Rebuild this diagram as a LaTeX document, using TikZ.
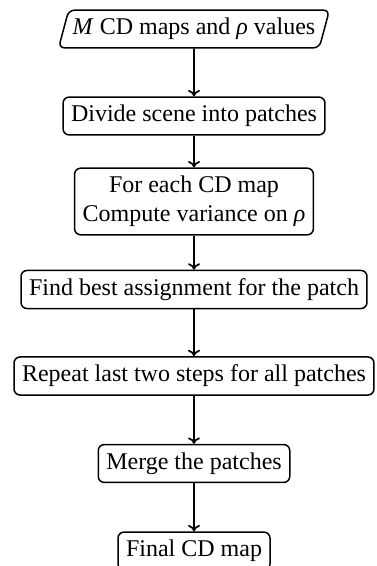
\documentclass[tikz,border=0pt]{standalone}
\usepackage{fontspec}
\setmainfont{Liberation Serif}
\usetikzlibrary{shapes.geometric,arrows.meta}
\begin{document}
\begin{tikzpicture}[x=0.5pt,y=-0.5pt,
  every node/.style={font=\fontsize{12}{14.4}\selectfont, line width=0.75pt},
  procbox/.style={draw, rounded corners=3pt, align=center, inner sep=4pt},
  iobox/.style={draw, trapezium, trapezium left angle=75, trapezium right angle=105,
    trapezium stretches body, rounded corners=3pt, inner sep=4pt, inner xsep=2pt},
  flow/.style={-{To[length=3.2pt,width=6pt]}, line width=0.85pt}]
\useasboundingbox (0,0) rectangle (376,566);
\node[iobox] (in) at (194,29) {\textit{M} CD maps and \textit{ρ} values};
\node[procbox] (div) at (194,116) {Divide scene into patches};
\node[procbox] (var) at (194,201.5) {For each CD map\\Compute variance on \textit{ρ}};
\node[procbox] (best) at (194,289.5) {Find best assignment for the patch};
\node[procbox] (rep) at (194,376) {Repeat last two steps for all patches};
\node[procbox] (merge) at (194,463.5) {Merge the patches};
\node[procbox] (final) at (194,551) {Final CD map};
\draw[flow] (in) -- (div);
\draw[flow] (div) -- (var);
\draw[flow] (var) -- (best);
\draw[flow] (best) -- (rep);
\draw[flow] (rep) -- (merge);
\draw[flow] (merge) -- (final);
\end{tikzpicture}
\end{document}
